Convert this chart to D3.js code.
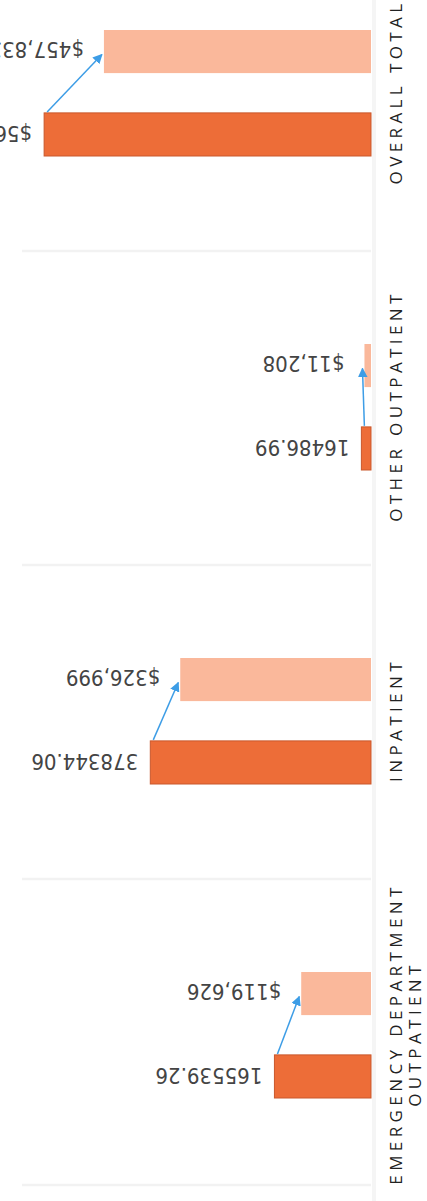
<!DOCTYPE html>
<html>
<head>
    <meta charset="utf-8">
    <title>Cost by Setting</title>
    <script src="https://cdnjs.cloudflare.com/ajax/libs/d3/7.8.5/d3.min.js"></script>
    <style>
        body {
            margin: 0;
            background: white;
        }
        #chart {
            width: 427px;
            height: 1201px;
        }
    </style>
</head>
<body>
    <div id="chart"></div>

    <script>
        // categories, top to bottom in the picture
        const categories = ["Overall Total", "Other Outpatient", "Inpatient", "Emergency Department Outpatient"];
        const categoryLines = [
            ["OVERALL TOTAL"],
            ["OTHER OUTPATIENT"],
            ["INPATIENT"],
            ["EMERGENCY DEPARTMENT", "OUTPATIENT"]
        ];
        // dark bars (before) and light bars (after)
        const beforeValues = [560370.31, 16486.99, 378344.06, 165539.26];
        const beforeLabels = ["$560,370", "16486.99", "378344.06", "165539.26"];
        const afterValues = [457833, 11208, 326999, 119626];
        const afterLabels = ["$457,833", "$11,208", "$326,999", "$119,626"];
        const seriesKeys = ["after", "before"];

        const width = 427;
        const height = 1201;
        const baseX = 371;

        const svg = d3.select("#chart")
            .append("svg")
            .attr("width", width)
            .attr("height", height);

        const x = d3.scaleLinear()
            .domain([0, 600000])
            .range([baseX, baseX - 350]);

        const y = d3.scaleBand()
            .domain(categories)
            .range([-63, 1193])
            .padding(0);

        // light bar above, dark bar below inside each band
        const ySub = d3.scaleBand()
            .domain(seriesKeys)
            .range([-64, 62])
            .paddingInner(0.48)
            .paddingOuter(0);

        const rows = categories.map((c, i) => ({
            cat: c,
            lines: categoryLines[i],
            before: beforeValues[i],
            after: afterValues[i],
            beforeLabel: beforeLabels[i],
            afterLabel: afterLabels[i],
            center: y(c) + y.bandwidth() / 2
        }));

        svg.append("defs").append("marker")
            .attr("id", "arrowhead")
            .attr("viewBox", "0 -5 10 10")
            .attr("refX", 9)
            .attr("refY", 0)
            .attr("orient", "auto")
            .attr("markerWidth", 6.5)
            .attr("markerHeight", 6.5)
            .append("path")
            .attr("d", "M0,-5 L10,0 L0,5 Z")
            .attr("fill", "#3d9de6");

        // faint separators between groups
        svg.append("g")
            .selectAll("line")
            .data(categories.slice(1).map(c => y(c)).concat([y.range()[1] - 8]))
            .join("line")
            .attr("x1", 22)
            .attr("x2", baseX)
            .attr("y1", d => d)
            .attr("y2", d => d)
            .attr("stroke", "#f2f2f2")
            .attr("stroke-width", 2.5);

        // faint baseline
        svg.append("line")
            .attr("x1", baseX + 3)
            .attr("x2", baseX + 3)
            .attr("y1", 0)
            .attr("y2", height)
            .attr("stroke", "#f5f5f5")
            .attr("stroke-width", 4);

        const group = svg.append("g")
            .selectAll("g")
            .data(rows)
            .join("g")
            .attr("transform", d => `translate(0,${d.center})`);

        // light bars
        group.append("rect")
            .attr("x", d => x(d.after))
            .attr("y", ySub("after"))
            .attr("width", d => baseX - x(d.after))
            .attr("height", ySub.bandwidth())
            .attr("fill", "#fab89b");

        // dark bars
        group.append("rect")
            .attr("x", d => x(d.before))
            .attr("y", ySub("before"))
            .attr("width", d => baseX - x(d.before))
            .attr("height", ySub.bandwidth())
            .attr("fill", "#ed6d38")
            .attr("stroke", "#c9582c")
            .attr("stroke-width", 1);

        // value labels, upside down as in the scan
        const labelFont = "'DejaVu Sans Condensed', 'DejaVu Sans', sans-serif";

        group.append("text")
            .attr("transform", d => `translate(${x(d.after) - 20},${ySub("after") + ySub.bandwidth() / 2 - 4}) rotate(180)`)
            .attr("text-anchor", "start")
            .attr("dominant-baseline", "middle")
            .attr("font-family", labelFont)
            .attr("font-size", "22px")
            .attr("fill", "#444")
            .text(d => d.afterLabel);

        group.append("text")
            .attr("transform", d => `translate(${x(d.before) - 12},${ySub("before") + ySub.bandwidth() / 2 - 2}) rotate(180)`)
            .attr("text-anchor", "start")
            .attr("dominant-baseline", "middle")
            .attr("font-family", labelFont)
            .attr("font-size", "22px")
            .attr("fill", "#444")
            .text(d => d.beforeLabel);

        // arrows from dark bar end to light bar end
        group.append("line")
            .attr("x1", d => x(d.before) + 3)
            .attr("y1", ySub("before") - 1)
            .attr("x2", d => x(d.after) - 2)
            .attr("y2", ySub("after") + ySub.bandwidth() / 2 + 3)
            .attr("stroke", "#3d9de6")
            .attr("stroke-width", 1.5)
            .attr("marker-end", "url(#arrowhead)");

        // category labels, reading bottom to top
        const catText = group.append("text")
            .attr("transform", d => `translate(397,0) rotate(-90)`)
            .attr("text-anchor", "middle")
            .attr("font-family", "'Open Sans', sans-serif")
            .attr("font-size", "17px")
            .attr("letter-spacing", "4.4px")
            .attr("fill", "#222");

        catText.selectAll("tspan")
            .data(d => d.lines.map((t, i) => ({ t, i, n: d.lines.length })))
            .join("tspan")
            .attr("x", 2)
            .attr("y", d => d.i * 19 + 5)
            .text(d => d.t);
    </script>
</body>
</html>
